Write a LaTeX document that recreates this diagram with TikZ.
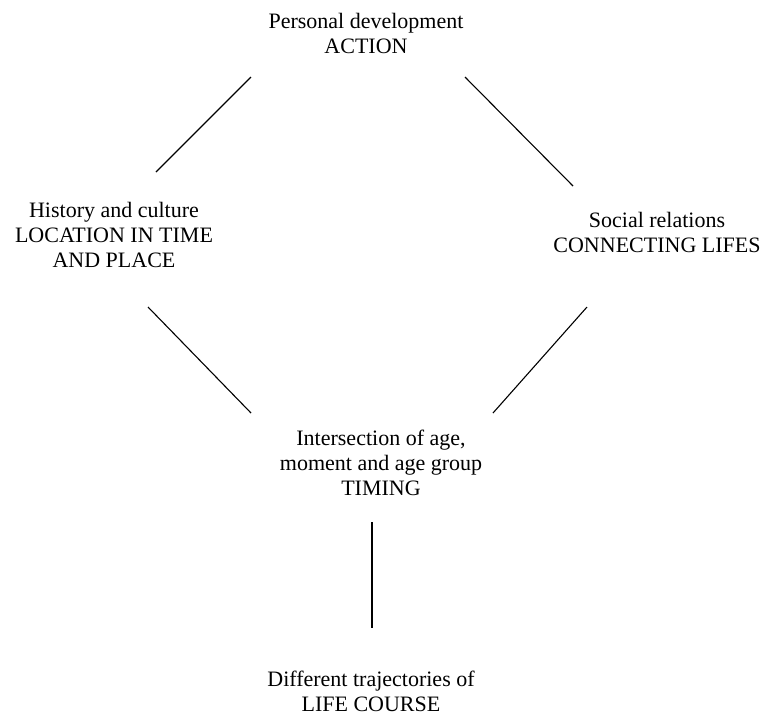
\documentclass[tikz,border=0pt]{standalone}
\usepackage{fontspec}
\setmainfont{Liberation Serif}
\begin{document}
\begin{tikzpicture}[x=1pt,y=-1pt,
  label text/.style={align=center,inner sep=0pt,font=\fontsize{22}{25}\selectfont},
  link/.style={line width=1.1pt,black}]
\useasboundingbox (0,0) rectangle (763,716);

% the five themes
\node[label text] (pd) at (366,33)    {Personal development\\ACTION};
\node[label text] (hc) at (114,234.5) {History and culture\\LOCATION IN TIME\\AND PLACE};
\node[label text] (sr) at (657,232.5) {Social relations\\CONNECTING LIFES};
\node[label text] (ia) at (381,462.5) {Intersection of age,\\moment and age group\\TIMING};
\node[label text] (dt) at (371,691)   {Different trajectories of\\LIFE COURSE};

% end points of the links between the themes
\coordinate (pd-hc a) at (251,77);
\coordinate (pd-hc b) at (156,172);
\coordinate (pd-sr a) at (465,77);
\coordinate (pd-sr b) at (573,186);
\coordinate (hc-ia a) at (148,307);
\coordinate (hc-ia b) at (251,413);
\coordinate (sr-ia a) at (587,307);
\coordinate (sr-ia b) at (493,413);
\coordinate (ia-dt a) at (372,522);
\coordinate (ia-dt b) at (372,628);

\draw[link] (pd-hc a) -- (pd-hc b);
\draw[link] (pd-sr a) -- (pd-sr b);
\draw[link] (hc-ia a) -- (hc-ia b);
\draw[link] (sr-ia a) -- (sr-ia b);
\draw[link] (ia-dt a) -- (ia-dt b);
\end{tikzpicture}
\end{document}
